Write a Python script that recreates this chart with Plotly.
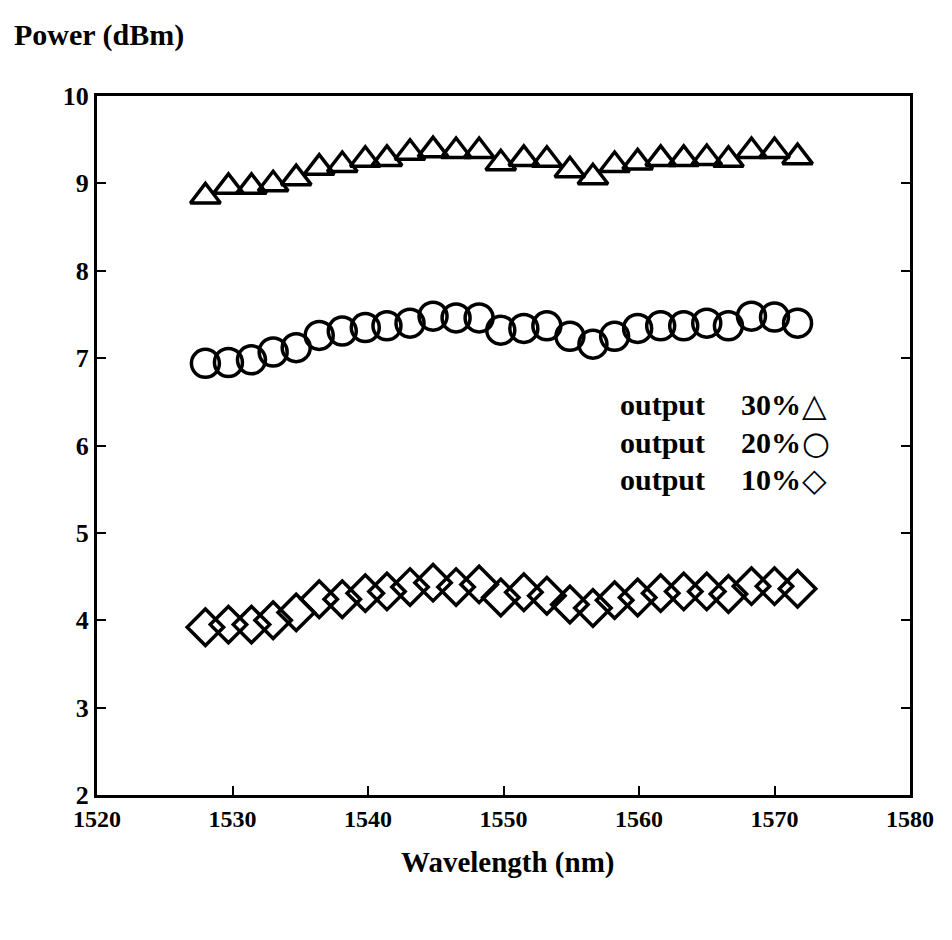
import plotly.graph_objects as go

wavelength = [1528.0, 1529.7, 1531.4, 1533.0, 1534.7, 1536.4, 1538.1, 1539.8, 1541.4,
              1543.1, 1544.8, 1546.5, 1548.2, 1549.8, 1551.5, 1553.2, 1554.9, 1556.6,
              1558.2, 1559.9, 1561.6, 1563.3, 1565.0, 1566.6, 1568.3, 1570.0, 1571.7]

power_30 = [8.85, 8.96, 8.96, 8.99, 9.06, 9.18, 9.21, 9.27, 9.28, 9.35, 9.38, 9.37, 9.37,
            9.23, 9.28, 9.27, 9.15, 9.07, 9.21, 9.24, 9.28, 9.28, 9.29, 9.27, 9.37, 9.37, 9.30]
power_20 = [6.94, 6.95, 6.98, 7.07, 7.12, 7.26, 7.31, 7.35, 7.37, 7.40, 7.48, 7.46, 7.46,
            7.32, 7.34, 7.37, 7.25, 7.16, 7.25, 7.34, 7.37, 7.37, 7.40, 7.37, 7.48, 7.47, 7.40]
power_10 = [3.92, 3.95, 3.95, 4.00, 4.09, 4.24, 4.24, 4.31, 4.33, 4.38, 4.43, 4.38, 4.41,
            4.26, 4.32, 4.28, 4.18, 4.14, 4.23, 4.26, 4.31, 4.33, 4.33, 4.30, 4.39, 4.39, 4.36]

series_names = ["output", "output", "output"]
series_pcts = ["30%", "20%", "10%"]
legend_symbols = ["\u25B3", "\u25CB", "\u25C7"]

x_ticks = [1520, 1530, 1540, 1550, 1560, 1570, 1580]
y_ticks = [2, 3, 4, 5, 6, 7, 8, 9, 10]

FONT = "Liberation Serif"

fig = go.Figure()
for ys, sym, size in [(power_30, "triangle-up-open", 26),
                      (power_20, "circle-open", 28),
                      (power_10, "diamond-open", 28)]:
    fig.add_trace(go.Scatter(
        x=wavelength, y=ys, mode="markers",
        marker=dict(symbol=sym, size=size, color="black",
                    line=dict(width=3.5, color="black")),
        showlegend=False))

legend_y = [0.558, 0.504, 0.451]
for name, pct, s, yy in zip(series_names, series_pcts, legend_symbols, legend_y):
    fig.add_annotation(xref="paper", yref="paper", x=0.750, y=yy,
                       text=f"<b>{name}</b>", showarrow=False, xanchor="right",
                       font=dict(family=FONT, size=30, color="black"))
    fig.add_annotation(xref="paper", yref="paper", x=0.869, y=yy,
                       text=f"<b>{pct}</b>", showarrow=False, xanchor="right",
                       font=dict(family=FONT, size=30, color="black"))
    fig.add_annotation(xref="paper", yref="paper", x=0.865, y=yy,
                       text=s, showarrow=False, xanchor="left",
                       font=dict(family="DejaVu Sans", size=32, color="black"))

fig.add_annotation(xref="paper", yref="paper", x=-0.105, y=1.0, yshift=61,
                   yanchor="middle",
                   text="<b>Power (dBm)</b>", showarrow=False, xanchor="left",
                   font=dict(family=FONT, size=30, color="black"))
fig.add_annotation(xref="paper", yref="paper", x=0.505, y=0, yshift=-67,
                   yanchor="middle",
                   text="<b>Wavelength (nm)</b>", showarrow=False,
                   font=dict(family=FONT, size=29, color="black"))

fig.update_layout(
    width=952, height=940,
    margin=dict(l=89, r=50, t=88, b=153),
    paper_bgcolor="white", plot_bgcolor="white",
    font=dict(family=FONT, color="black"),
)
fig.update_xaxes(range=[1520, 1580], tickvals=x_ticks,
                 ticktext=[f"<b>{t}</b>" for t in x_ticks],
                 showgrid=False, zeroline=False,
                 showline=True, linecolor="black", linewidth=3, mirror=True,
                 ticks="inside", ticklen=9, tickwidth=2, tickcolor="black",
                 tickfont=dict(family=FONT, size=24, color="black"))
fig.update_yaxes(range=[2, 10], tickvals=y_ticks,
                 ticktext=[f"<b>{t}</b>" for t in y_ticks],
                 showgrid=False, zeroline=False,
                 showline=True, linecolor="black", linewidth=3, mirror="ticks",
                 ticks="inside", ticklen=9, tickwidth=2, tickcolor="black",
                 tickfont=dict(family=FONT, size=26, color="black"))

fig.write_html("out.html")
